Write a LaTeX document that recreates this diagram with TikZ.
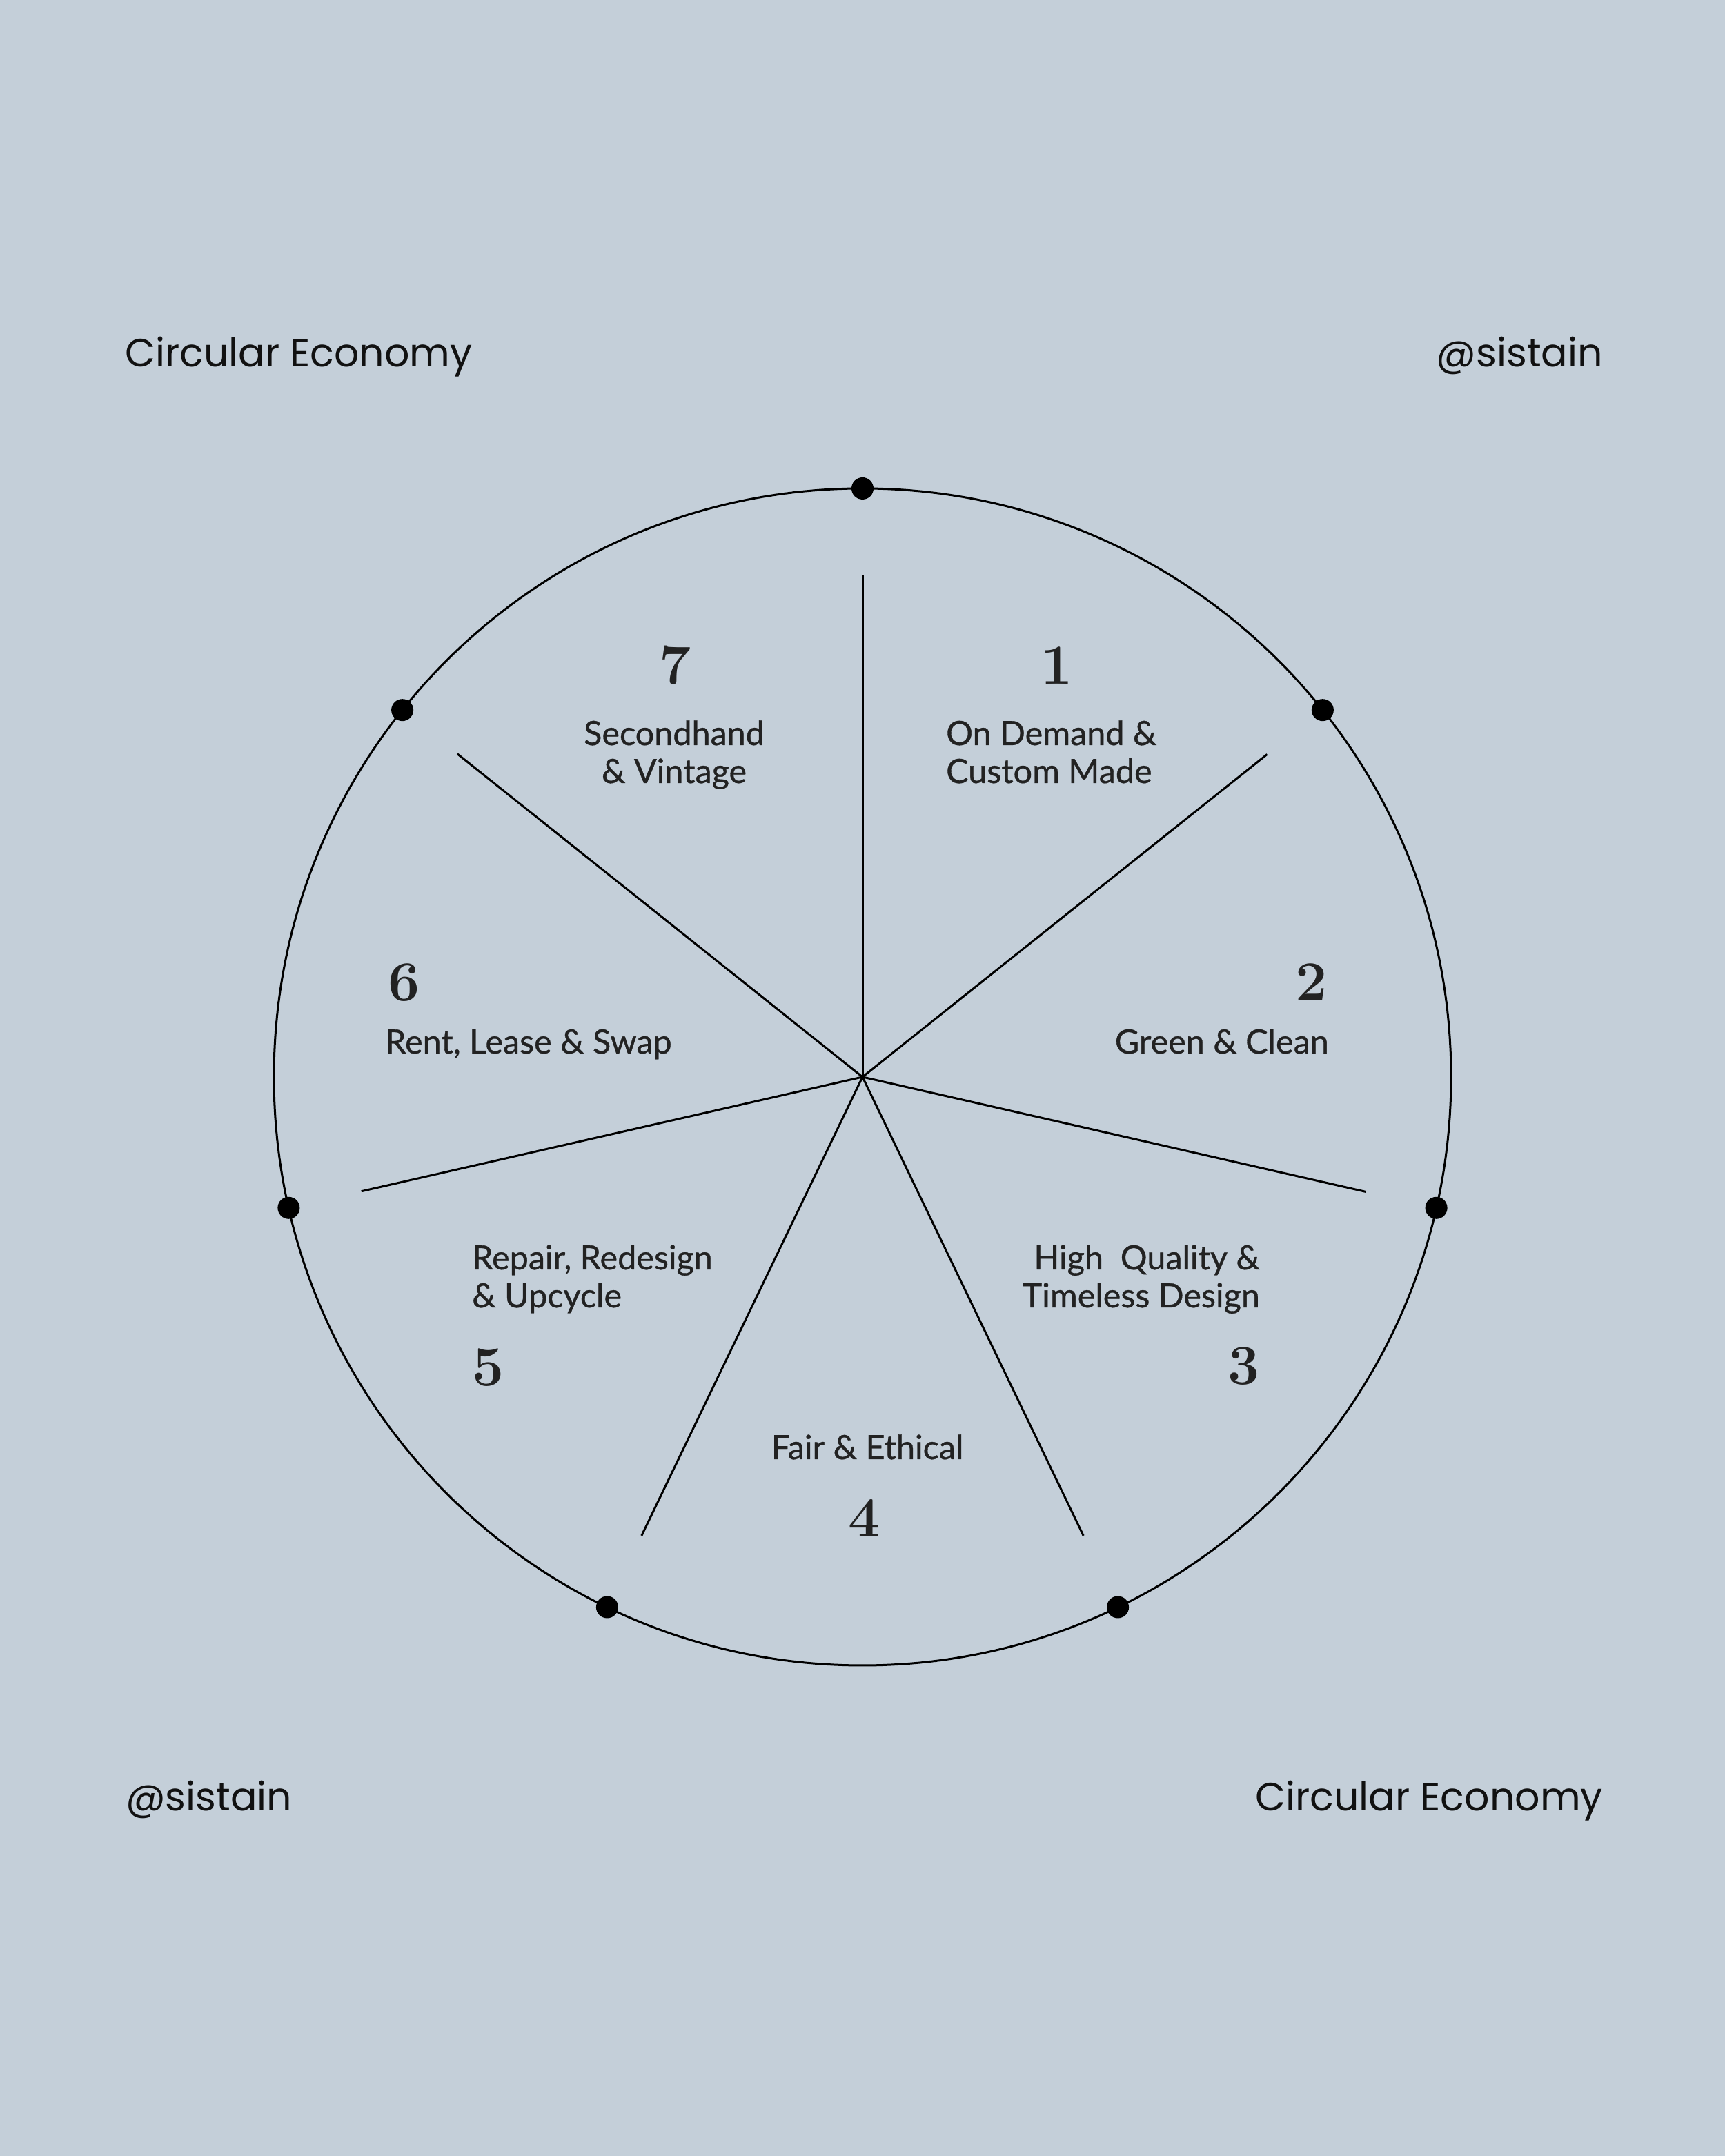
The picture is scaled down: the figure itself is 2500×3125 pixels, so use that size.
\documentclass[tikz,border=0pt]{standalone}
\usepackage{fontspec}
\usetikzlibrary{calc}
\setmainfont{Latin Modern Roman}
\newfontfamily\headfont{Poppins}
\newfontfamily\labfont{Lato}[FakeBold=0.7]
\definecolor{bg}{HTML}{C4CFD9}
\definecolor{ink}{HTML}{111111}
\definecolor{txt}{HTML}{222222}
\begin{document}
\begin{tikzpicture}[x=1pt,y=1pt,
  header/.style={inner sep=0pt, text=ink, font=\headfont\fontsize{57}{57}\selectfont},
  numlabel/.style={inner sep=0pt, text=txt, font=\bfseries\fontsize{82}{82}\selectfont},
  steplabel/.style={inner sep=0pt, text=txt, font=\labfont\fontsize{48.5}{55}\selectfont},
  rim/.style={line width=3pt, draw=black},
  spoke/.style={line width=3pt, draw=black},
  dotmark/.style={circle, fill=black, inner sep=0pt, minimum size=32pt}]
\fill[bg] (0,0) rectangle (2500,3125);
\useasboundingbox (0,0) rectangle (2500,3125);
\coordinate (C) at (1250,1564);
\draw[rim] (C) circle[radius=853];
% dots on the rim
\foreach \k in {0,...,6}{
  \node[dotmark] (d\k) at ($(C)+({90-\k*360/7}:853)$) {};
}
% spokes
\foreach \k/\len in {0/727,1/750,2/748,3/738,4/738,5/745,6/751}{
  \coordinate (s\k) at ($(C)+({90-\k*360/7}:\len)$);
  \draw[spoke, line cap=butt] (C) -- (s\k);
}
% headers
\node[header, anchor=base west] (h1) at (181,2593) {Circular Economy};
\node[header, anchor=base east] (h2) at (2323,2593) {@sistain};
\node[header, anchor=base west] (h3) at (182,500) {@sistain};
\node[header, anchor=base east] (h4) at (2323,500) {Circular Economy};
% numbers
\node[numlabel, anchor=base] (n1) at (1532,2133) {1};
\node[numlabel, anchor=base east] (n2) at (1924,1674) {2};
\node[numlabel, anchor=base east] (n3) at (1826,1118) {3};
\node[numlabel, anchor=base] (n4) at (1253,897) {4};
\node[numlabel, anchor=base west] (n5) at (684,1116) {5};
\node[numlabel, anchor=base west] (n6) at (562,1674) {6};
\node[numlabel, anchor=base] (n7) at (979,2133) {7};
% labels (base anchor of a two-line node is the last line's baseline)
\node[steplabel, anchor=base west, align=left] (l1) at (1371,1990) {On Demand \&\\Custom Made};
\node[steplabel, anchor=base east, align=right] (l2) at (1926,1598) {Green \& Clean};
\node[steplabel, anchor=base east, align=right] (l3) at (1826,1230) {High\ \ Quality \&\\Timeless Design};
\node[steplabel, anchor=base] (l4) at (1257,1010) {Fair \& Ethical};
\node[steplabel, anchor=base west, align=left] (l5) at (684,1230) {Repair, Redesign\\\& Upcycle};
\node[steplabel, anchor=base west] (l6) at (558,1598) {Rent, Lease \& Swap};
\node[steplabel, anchor=base, align=center] (l7) at (977,1990) {Secondhand\\\& Vintage};
\end{tikzpicture}
\end{document}
